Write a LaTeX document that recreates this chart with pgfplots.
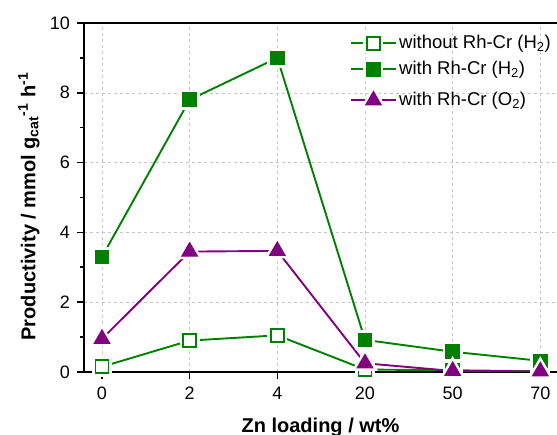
\documentclass[border=0pt]{standalone}
\usepackage{pgfplots}
\pgfplotsset{compat=1.18}
\usepackage{fontspec}
\setmainfont{Liberation Sans}
\definecolor{cgreen}{RGB}{0,128,0}
\definecolor{cpurple}{RGB}{128,0,128}
% square marks with a white halo (Origin-style gap between line and mark)
\pgfdeclareplotmark{sqopen}{%
  \pgfsetfillcolor{white}%
  \pgfpathrectangle{\pgfpoint{-\pgfplotmarksize-3.5pt}{-\pgfplotmarksize-3.5pt}}{\pgfpoint{2*\pgfplotmarksize+7pt}{2*\pgfplotmarksize+7pt}}%
  \pgfusepath{fill}%
  \pgfpathrectangle{\pgfpoint{-\pgfplotmarksize}{-\pgfplotmarksize}}{\pgfpoint{2*\pgfplotmarksize}{2*\pgfplotmarksize}}%
  \pgfusepath{stroke,fill}}
\pgfdeclareplotmark{sqfill}{%
  \pgfsetfillcolor{white}%
  \pgfpathrectangle{\pgfpoint{-\pgfplotmarksize-3.5pt}{-\pgfplotmarksize-3.5pt}}{\pgfpoint{2*\pgfplotmarksize+7pt}{2*\pgfplotmarksize+7pt}}%
  \pgfusepath{fill}%
  \pgfsetfillcolor{cgreen}%
  \pgfpathrectangle{\pgfpoint{-\pgfplotmarksize}{-\pgfplotmarksize}}{\pgfpoint{2*\pgfplotmarksize}{2*\pgfplotmarksize}}%
  \pgfusepath{stroke,fill}}
\pgfdeclareplotmark{trifill}{%
  \pgfsetfillcolor{white}%
  \pgfpathmoveto{\pgfpointpolar{90}{\pgfplotmarksize+6pt}}%
  \pgfpathlineto{\pgfpointpolar{210}{\pgfplotmarksize+6pt}}%
  \pgfpathlineto{\pgfpointpolar{330}{\pgfplotmarksize+6pt}}%
  \pgfpathclose
  \pgfusepath{fill}%
  \pgfsetfillcolor{cpurple}%
  \pgfpathmoveto{\pgfpointpolar{90}{\pgfplotmarksize}}%
  \pgfpathlineto{\pgfpointpolar{210}{\pgfplotmarksize}}%
  \pgfpathlineto{\pgfpointpolar{330}{\pgfplotmarksize}}%
  \pgfpathclose
  \pgfusepath{stroke,fill}}
\begin{document}
\fontsize{18}{21}\selectfont
\begin{tikzpicture}
\begin{axis}[name=ax, at={(0,0)}, anchor=south west,
  scale only axis, width=473pt, height=349pt,
  xmin=-0.205, xmax=5.19, ymin=0, ymax=10,
  xtick={0,1,2,3,4,5}, xticklabels={0,2,4,20,50,70},
  ytick={0,2,4,6,8,10}, minor ytick={1,3,5,7,9},
  axis x line=box, axis y line=left,
  axis line style={-, line width=1.6pt, black},
  xtick pos=bottom, ytick pos=left,
  tick align=outside,
  major tick length=7pt, minor tick length=4pt,
  every tick/.style={black, line width=1.6pt},
  grid=major,
  major grid style={dashed, gray!45, line width=0.5pt},
  /pgf/number format/assume math mode=true,
  tick label style={font=\fontsize{18}{21}\selectfont},
  xticklabel style={yshift=-2pt},
  yticklabel style={xshift=-1pt},
  label style={font=\fontsize{20}{24}\selectfont\bfseries},
  xlabel={Zn loading / wt\%},
  ylabel={Productivity / mmol g\textsubscript{cat}\textsuperscript{-1} h\textsuperscript{-1}},
  xlabel style={yshift=-6pt},
  ylabel style={yshift=-2pt, xshift=-9pt},
  legend style={at={(1,1)}, anchor=north east, draw=none, fill=none,
    font=\fontsize{18.5}{21}\selectfont, row sep=6pt, xshift=-1pt, yshift=-8pt},
  legend cell align=left,
  legend image code/.code={\draw[mark repeat=2,mark phase=2] plot coordinates {(0cm,0cm) (0.8cm,0cm) (1.6cm,0cm)};},
]
\addplot[cgreen, line width=1.9pt, mark=sqopen, mark size=6.5pt,
  mark options={line width=1.6pt}]
  coordinates {(0,0.15) (1,0.9) (2,1.05) (3,0.07) (4,0.05) (5,0.02)};
\addlegendentry{without Rh-Cr (H\textsubscript{2})}
\addplot[cgreen, line width=1.9pt, mark=sqfill, mark size=6.5pt,
  mark options={line width=1.6pt}]
  coordinates {(0,3.3) (1,7.8) (2,9.0) (3,0.92) (4,0.58) (5,0.32)};
\addlegendentry{with Rh-Cr (H\textsubscript{2})}
\addplot[cpurple, line width=1.9pt, mark=trifill, mark size=9pt,
  mark options={line width=1pt}]
  coordinates {(0,0.95) (1,3.45) (2,3.47) (3,0.25) (4,0.03) (5,0.02)};
\addlegendentry{with Rh-Cr (O\textsubscript{2})}
\end{axis}
\pgfresetboundingbox
\path[use as bounding box] ([shift={(-84pt,-63pt)}]ax.south west) rectangle ([shift={(0pt,23pt)}]ax.north east);
\end{tikzpicture}
\end{document}
